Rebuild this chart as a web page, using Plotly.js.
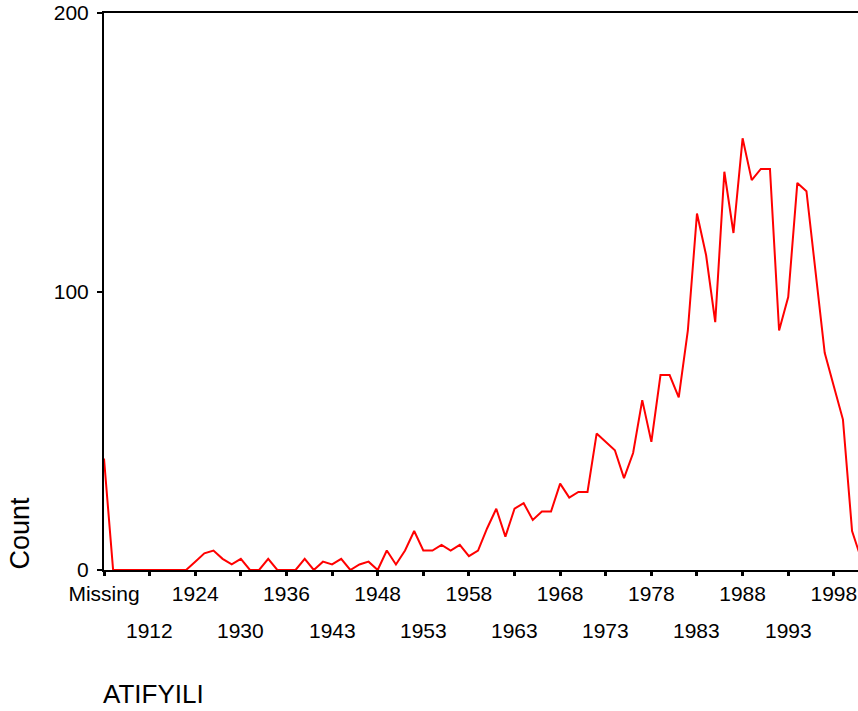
<!DOCTYPE html>
<html>
<head>
<meta charset="utf-8">
<script src="https://cdn.plot.ly/plotly-3.0.1.min.js"></script>
<style>html,body{margin:0;padding:0;background:#fff;}#chart{width:858px;height:711px;}</style>
</head>
<body>
<div id="chart"></div>
<script>
// Categories (x) in display order
const categories = [
  "Missing","1901","1905","1908","1910","1912","1914","1917","1920","1922",
  "1924","1925","1926","1927","1929","1930","1931","1932","1933","1935",
  "1936","1937","1938","1940","1942","1943","1944","1945","1946","1947",
  "1948","1949","1950","1951","1952","1953","1954","1955","1956","1957",
  "1958","1959","1960","1961","1962","1963","1964","1965","1966","1967",
  "1968","1969","1970","1971","1972","1973","1974","1975","1976","1977",
  "1978","1979","1980","1981","1982","1983","1984","1985","1986","1987",
  "1988","1989","1990","1991","1992","1993","1994","1995","1996","1997",
  "1998","1999","2000","2001"
];
// Count per category
const counts = [
  40,0,0,0,0,0,0,0,0,0,
  3,6,7,4,2,4,0,0,4,0,
  0,0,4,0,3,2,4,0,2,3,
  0,7,2,7,14,7,7,9,7,9,
  5,7,15,22,12,22,24,18,21,21,
  31,26,28,28,49,46,43,33,42,61,
  46,70,70,62,86,128,113,89,143,121,
  155,140,144,144,86,98,139,136,107,78,
  66,54,14,4
];
// Tick labels: first row on the axis, second row staggered below
const tickRow1 = ["Missing","1924","1936","1948","1958","1968","1978","1988","1998"];
const tickRow2 = ["1912","1930","1943","1953","1963","1973","1983","1993"];
const yTicks = [0, 100, 200];

const allTicks = categories.filter(c => tickRow1.includes(c) || tickRow2.includes(c));
const tickText = allTicks.map(c => tickRow1.includes(c) ? c : "");

const font = {family: "Arial, Liberation Sans, sans-serif", color: "#000"};

const trace = {
  type: "scatter",
  mode: "lines",
  x: categories,
  y: counts,
  line: {color: "#ff0000", width: 2},
  hoverinfo: "skip",
  cliponaxis: true
};

const annotations = tickRow2.map(c => ({
  x: categories.indexOf(c), xref: "x", y: 0, yref: "paper",
  text: c, showarrow: false, xanchor: "center", yanchor: "middle",
  yshift: -60, font: Object.assign({size: 21}, font)
}));
annotations.push({
  x: 0, xref: "paper", y: 0, yref: "paper", xshift: -84.5, yshift: 37,
  text: "Count", textangle: -90, showarrow: false,
  xanchor: "center", yanchor: "middle", font: Object.assign({size: 27}, font)
});
annotations.push({
  x: 0, xref: "paper", y: 0, yref: "paper", xshift: -2, yshift: -124,
  text: "ATIFYILI", showarrow: false, borderpad: 0,
  xanchor: "left", yanchor: "middle", font: Object.assign({size: 26}, font)
});

const layout = {
  width: 858, height: 711,
  margin: {l: 104, r: 0, t: 13, b: 141, pad: 0},
  paper_bgcolor: "#fff", plot_bgcolor: "#fff",
  showlegend: false,
  xaxis: {
    type: "category",
    range: [0, 82.65],
    tickmode: "array", tickvals: allTicks, ticktext: tickText,
    ticks: "outside", ticklen: 4, tickwidth: 3, tickcolor: "#000",
    showline: true, linewidth: 2, linecolor: "#000", mirror: true,
    showgrid: false, zeroline: false, tickangle: 0,
    tickfont: Object.assign({size: 21}, font)
  },
  yaxis: {
    range: [0, 200],
    tickmode: "array", tickvals: yTicks, ticktext: yTicks.map(String),
    ticks: "outside", ticklen: 5, tickwidth: 2, tickcolor: "#000",
    ticklabelstandoff: 4,
    showline: true, linewidth: 2, linecolor: "#000",
    showgrid: false, zeroline: false,
    tickfont: Object.assign({size: 21}, font)
  },
  annotations: annotations
};

Plotly.newPlot("chart", [trace], layout, {displayModeBar: false, staticPlot: true});
</script>
</body>
</html>
